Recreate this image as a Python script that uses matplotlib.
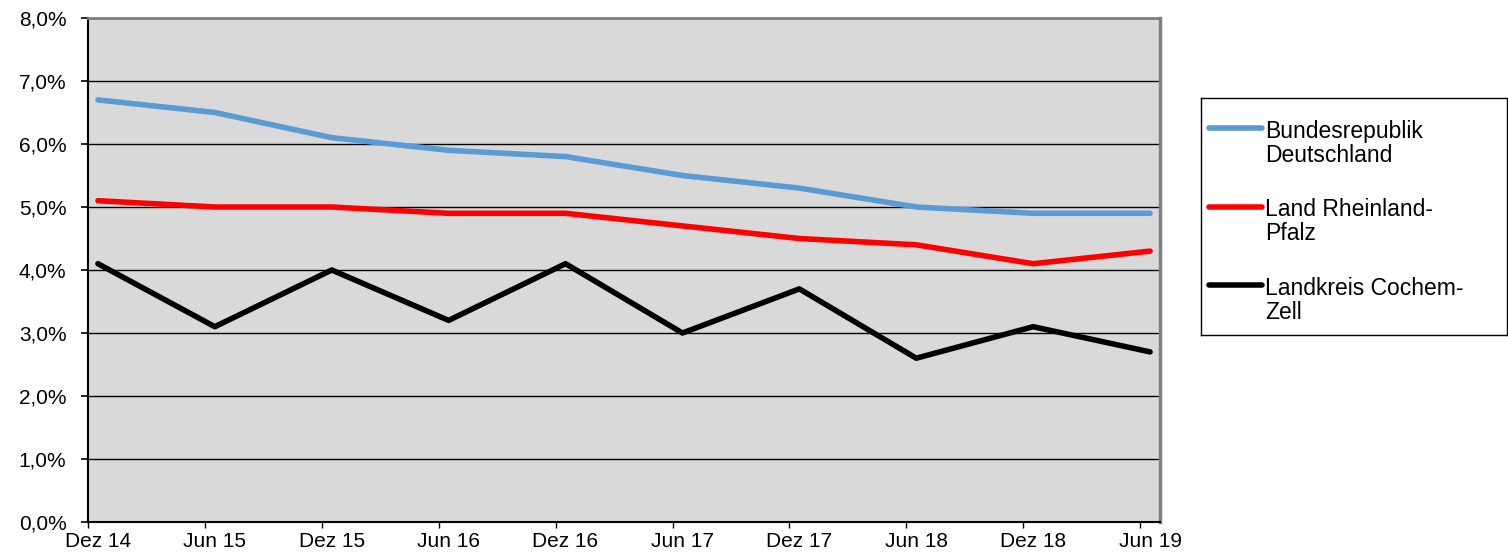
import numpy as np
import matplotlib.pyplot as plt
from matplotlib.ticker import FuncFormatter

# --- Data (Arbeitslosenquote) ---
periods = ["Dez 14", "Jun 15", "Dez 15", "Jun 16", "Dez 16",
           "Jun 17", "Dez 17", "Jun 18", "Dez 18", "Jun 19"]
bund = [6.7, 6.5, 6.1, 5.9, 5.8, 5.5, 5.3, 5.0, 4.9, 4.9]
rlp = [5.1, 5.0, 5.0, 4.9, 4.9, 4.7, 4.5, 4.4, 4.1, 4.3]
cochem = [4.1, 3.1, 4.0, 3.2, 4.1, 3.0, 3.7, 2.6, 3.1, 2.7]

labels = ["Bundesrepublik\nDeutschland",
          "Land Rheinland-\nPfalz",
          "Landkreis Cochem-\nZell"]
colors = ["#5B9BD5", "#FF0000", "#000000"]

plt.rcParams['font.family'] = ['Liberation Sans', 'DejaVu Sans']

W, H = 1508, 552
fig = plt.figure(figsize=(W / 100, H / 100), dpi=100)
ax = fig.add_axes([88 / W, 1 - 522 / H, 1072 / W, 504 / H])

x = np.arange(len(periods))
for vals, c in zip([bund, rlp, cochem], colors):
    ax.plot(x, vals, color=c, lw=4, solid_capstyle='round',
            solid_joinstyle='round', zorder=3)

# ticks sit half a month before the data points
off = 0.085
ax.set_xlim(-off, len(periods) - 1 + off)
ax.set_ylim(0, 8)
ax.set_facecolor('#D9D9D9')

ax.set_yticks(np.arange(0, 9))
ax.yaxis.set_major_formatter(FuncFormatter(lambda v, p: f"{v:.1f}%".replace('.', ',')))
ax.grid(axis='y', color='black', lw=1)

ax.set_xticks(x - off)
ax.set_xticks(x, minor=True)
ax.set_xticklabels(periods, minor=True)
ax.tick_params(axis='x', which='major', length=4, width=1, labelbottom=False)
ax.tick_params(axis='x', which='minor', length=0, pad=7, labelsize=15)
ax.tick_params(axis='y', length=5, width=1.2, pad=10.5, labelsize=15)

ax.spines['left'].set_linewidth(1.5)
ax.spines['bottom'].set_linewidth(1.5)
ax.spines['top'].set_color('#808080')
ax.spines['top'].set_linewidth(2)
ax.spines['right'].set_color('#808080')
ax.spines['right'].set_linewidth(2.5)

# --- Legend box (drawn by hand, keys aligned with first text line) ---
lax = fig.add_axes([1201 / W, 1 - 335 / H, 306 / W, 237 / H])
lax.set_xlim(0, 306)
lax.set_ylim(237, 0)
lax.set_xticks([])
lax.set_yticks([])
for s in lax.spines.values():
    s.set_linewidth(1)
    s.set_color('black')
for i, (lab, c) in enumerate(zip(labels, colors)):
    yy = 30 + 78.5 * i
    lax.plot([8, 61], [yy, yy], color=c, lw=4, solid_capstyle='round')
    lax.text(64, yy - 8, lab, va='top', ha='left', fontsize=16.5, linespacing=1.05)

fig.savefig("out.png", dpi=100)
